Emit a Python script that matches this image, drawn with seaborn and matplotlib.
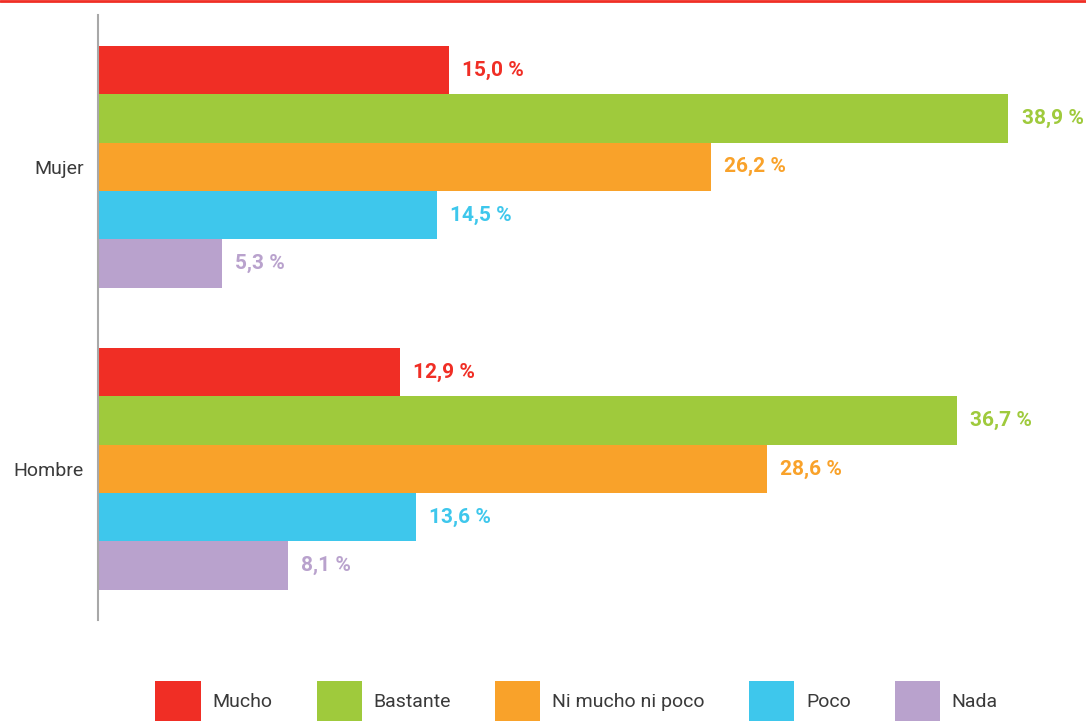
import matplotlib
matplotlib.use("Agg")
import matplotlib.pyplot as plt
from matplotlib.patches import Patch
from matplotlib.lines import Line2D
import seaborn as sns
import pandas as pd

groups = ["Mujer", "Hombre"]
answers = ["Mucho", "Bastante", "Ni mucho ni poco", "Poco", "Nada"]
mujer = [15.0, 38.9, 26.2, 14.5, 5.3]
hombre = [12.9, 36.7, 28.6, 13.6, 8.1]
colors = ["#F02E25", "#9FCA3C", "#F9A22A", "#3EC7EC", "#B9A2CD"]

rows = []
for g, vals in zip(groups, [mujer, hombre]):
    for a, v in zip(answers, vals):
        rows.append({"grupo": g, "respuesta": a, "valor": v})
df = pd.DataFrame(rows)

sns.set_style("white")
plt.rcParams["font.family"] = ["Roboto", "DejaVu Sans"]

fig = plt.figure(figsize=(10.86, 7.22), dpi=100)
ax = fig.add_axes([98 / 1086, 102 / 722, 983 / 1086, 605 / 722])

sns.barplot(data=df, x="valor", y="grupo", hue="respuesta", order=groups,
            hue_order=answers, palette=colors, orient="h", width=0.8,
            saturation=1, ax=ax, legend=False, linewidth=0)

for cont, col in zip(ax.containers, colors):
    labels = [f"{b.get_width():.1f}".replace(".", ",") + " %" for b in cont]
    ax.bar_label(cont, labels=labels, padding=9.4, color=col,
                 fontsize=15, fontweight="bold")

ax.set_xlim(0, 42)
ax.set_ylim(1.5, -0.503)
ax.set_xlabel("")
ax.set_ylabel("")
ax.set_xticks([])
for s in ["top", "right", "bottom"]:
    ax.spines[s].set_visible(False)
ax.spines["left"].set_color("#A8A8A8")
ax.spines["left"].set_linewidth(1.5)
ax.tick_params(axis="y", length=0, pad=10, labelsize=14, labelcolor="#3A3A3A")

# top red rule
fig.add_artist(Line2D([0, 1], [0.999, 0.999], transform=fig.transFigure,
                      color="#F02E25", linewidth=2))

handles = [Patch(facecolor=c, edgecolor="none", label=a) for a, c in zip(answers, colors)]
leg = fig.legend(handles=handles, ncol=5, loc="center",
                 bbox_to_anchor=(0.531, 0.029), frameon=False,
                 handlelength=2.32, handleheight=2.84, handletextpad=0.62,
                 columnspacing=2.26, borderpad=0, fontsize=14)
for t in leg.get_texts():
    t.set_color("#3A3A3A")

fig.savefig("out.png", dpi=100)
